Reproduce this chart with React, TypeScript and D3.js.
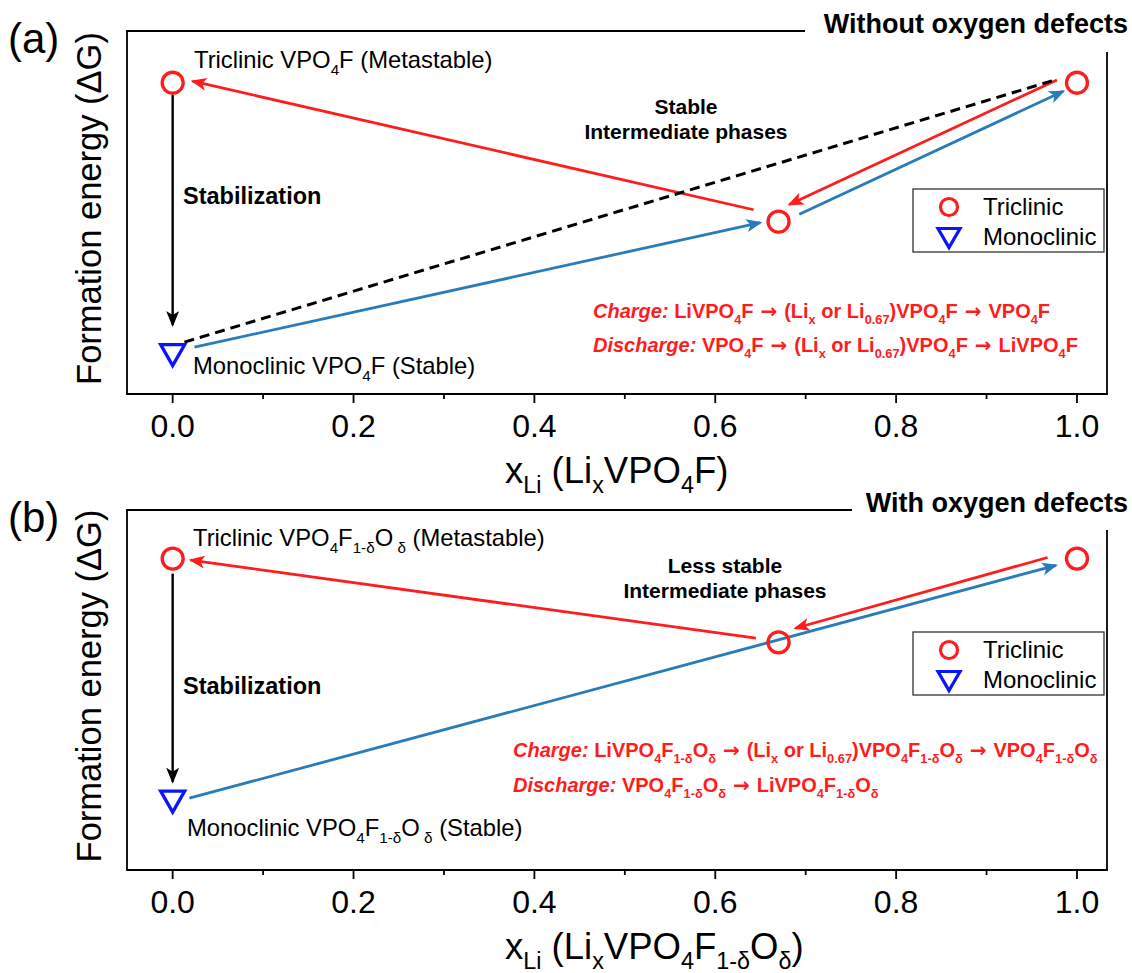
import React from "react";
import * as d3 from "d3";

// x positions of the phases (Li content) and tick values
const phaseX = [0, 0.67, 1];
const xTicksMajor = [0, 0.2, 0.4, 0.6, 0.8, 1.0];
const xTicksMinor = [0.1, 0.3, 0.5, 0.7, 0.9];

// relative formation energies (arbitrary units)
const triclinicA = [1.0, 0.49, 1.0];
const monoclinicA = [0.0];
const triclinicB = [1.01, 0.7, 1.01];
const monoclinicB = [0.11];

const FONT = "'Liberation Sans', Arial, Helvetica, sans-serif";
const RED = "#ff1c1c";
const BLUE_LINE = "#2a7bba";
const BLUE_MARK = "#0a14ff";

type Part = [string, string?];

function Rich({ x, y, size, parts, fill = "#000", weight = "normal", anchor = "start" }: any) {
  let cur = 0;
  return (
    <text x={x} y={y} fontSize={size} fill={fill} fontWeight={weight} textAnchor={anchor}
      fontFamily={FONT} style={{ whiteSpace: "pre" }}>
      {parts.map((p: Part, i: number) => {
        const f = p[1] || "";
        const sub = f.includes("s");
        const target = sub ? size * 0.28 : 0;
        const dy = target - cur;
        cur = target;
        return (
          <tspan key={i} dy={dy} fontSize={sub ? size * 0.64 : size}
            fontFamily={f.includes("a") ? "'DejaVu Sans', sans-serif" : undefined}
            fontStyle={f.includes("i") ? "italic" : undefined}>{p[0]}</tspan>
        );
      })}
    </text>
  );
}

function seg(x0: number, y0: number, x1: number, y1: number, g0: number, g1: number, off: number) {
  const dx = x1 - x0, dy = y1 - y0, L = Math.hypot(dx, dy);
  const ux = dx / L, uy = dy / L;
  let nx = uy, ny = -ux;
  if (ny > 0 || (ny === 0 && nx > 0)) { nx = -nx; ny = -ny; }
  return [x0 + ux * g0 + nx * off, y0 + uy * g0 + ny * off, x1 - ux * g1 + nx * off, y1 - uy * g1 + ny * off];
}

const x = d3.scaleLinear().domain([-0.0505, 1.0332]).range([127, 1107]);

function triPath(cx: number, cy: number, w: number, h: number) {
  return `M${cx - w / 2},${cy - h / 2}L${cx + w / 2},${cy - h / 2}L${cx},${cy + h / 2}Z`;
}

function Panel({ tri, mono, top, bottom, label, title, titleLineEnd, rightStart, arrows, texts, legendY }: any) {
  const y = d3.scaleLinear().domain([-0.143, 1.19]).range([bottom, top]);
  const P: any = {
    tri0: [x(phaseX[0]), y(tri[0])],
    tri067: [x(phaseX[1]), y(tri[1])],
    tri1: [x(phaseX[2]), y(tri[2])],
    mono0: [x(phaseX[0]), y(mono[0])],
  };
  const [x0, x1] = x.range();
  return (
    <g>
      {/* frame */}
      <line x1={x0} x2={x0} y1={top} y2={bottom} stroke="#000" strokeWidth={1.8} />
      <line x1={x0 - 0.9} x2={x1 + 0.9} y1={bottom} y2={bottom} stroke="#000" strokeWidth={1.8} />
      <line x1={x1} x2={x1} y1={rightStart} y2={bottom} stroke="#000" strokeWidth={1.8} />
      <line x1={x0 - 0.9} x2={titleLineEnd} y1={top} y2={top} stroke="#000" strokeWidth={1.8} />
      <text x={1128} y={top + 2} textAnchor="end" fontFamily={FONT} fontWeight="bold" fontSize={27}>{title}</text>
      <text x={8} y={top + 22} fontFamily={FONT} fontSize={42}>{label}</text>
      {/* ticks */}
      {xTicksMajor.map((t) => (
        <g key={"M" + t}>
          <line x1={x(t)} x2={x(t)} y1={bottom} y2={bottom + 9} stroke="#000" strokeWidth={1.8} />
          <text x={x(t)} y={bottom + 43} textAnchor="middle" fontFamily={FONT} fontSize={32}>{d3.format(".1f")(t)}</text>
        </g>
      ))}
      {xTicksMinor.map((t) => (
        <line key={"m" + t} x1={x(t)} x2={x(t)} y1={bottom} y2={bottom + 5} stroke="#000" strokeWidth={1.8} />
      ))}
      {/* y label */}
      <text transform={`translate(101,${(top + bottom) / 2 - 4}) rotate(-90)`} textAnchor="middle"
        fontFamily={FONT} fontSize={34.5}>Formation energy (ΔG)</text>
      {/* arrows */}
      {arrows.map((a: any, i: number) => {
        const p0 = P[a.from], p1 = P[a.to];
        const s = seg(p0[0], p0[1], p1[0], p1[1], a.g0, a.g1, a.off);
        return (
          <line key={i} x1={s[0]} y1={s[1]} x2={s[2]} y2={s[3]} stroke={a.color} strokeWidth={a.w || 2.8}
            strokeDasharray={a.dash ? "10,6" : undefined}
            markerEnd={a.head ? `url(#head-${a.head})` : undefined} />
        );
      })}
      {/* markers */}
      {[P.tri0, P.tri067, P.tri1].map((p: number[], i: number) => (
        <circle key={i} cx={p[0]} cy={p[1]} r={10.5} fill="none" stroke={RED} strokeWidth={3.3} />
      ))}
      <path d={triPath(P.mono0[0], P.mono0[1], 24, 21)} fill="none" stroke={BLUE_MARK} strokeWidth={3.3} strokeLinejoin="miter" />
      {/* legend */}
      <rect x={913} y={legendY} width={191} height={63} fill="#fff" stroke="#333" strokeWidth={1.3} />
      <circle cx={949} cy={legendY + 18} r={8.5} fill="none" stroke={RED} strokeWidth={3.2} />
      <text x={983} y={legendY + 26} fontFamily={FONT} fontSize={24}>Triclinic</text>
      <path d={triPath(949, legendY + 49, 22, 19)} fill="none" stroke={BLUE_MARK} strokeWidth={3.2} />
      <text x={983} y={legendY + 56} fontFamily={FONT} fontSize={24}>Monoclinic</text>
      {texts}
    </g>
  );
}

const F = "1-δ";
const AR: Part = [" → ", "a"];

export default function App() {
  const arrowsA = [
    { from: "tri067", to: "tri0", color: RED, g0: 27, g1: 19, off: 6, head: "red" },
    { from: "tri1", to: "tri067", color: RED, g0: 17, g1: 17, off: 11, head: "red" },
    { from: "tri067", to: "tri1", color: BLUE_LINE, g0: 22, g1: 16, off: -2, head: "blue" },
    { from: "mono0", to: "tri067", color: BLUE_LINE, g0: 23, g1: 18, off: 3, head: "blue" },
    { from: "mono0", to: "tri1", color: "#000", g0: 15, g1: 20, off: 9, dash: true, w: 3 },
    { from: "tri0", to: "mono0", color: "#000", g0: 12, g1: 30, off: 0, head: "black", w: 2.4 },
  ];
  const arrowsB = [
    { from: "tri067", to: "tri0", color: RED, g0: 23, g1: 18, off: 1, head: "red" },
    { from: "tri1", to: "tri067", color: RED, g0: 28, g1: 20, off: 9, head: "red" },
    { from: "mono0", to: "tri1", color: BLUE_LINE, g0: 17, g1: 22, off: -1, head: "blue" },
    { from: "tri0", to: "mono0", color: "#000", g0: 15, g1: 20, off: 0, head: "black", w: 2.4 },
  ];
  const textsA = (
    <g>
      <Rich x={194} y={68} size={23.8} parts={[["Triclinic VPO"], ["4", "s"], ["F (Metastable)"]]} />
      <Rich x={193} y={374} size={23.8} parts={[["Monoclinic VPO"], ["4", "s"], ["F (Stable)"]]} />
      <text x={183} y={204} fontFamily={FONT} fontWeight="bold" fontSize={23.5}>Stabilization</text>
      <text x={686} y={114} textAnchor="middle" fontFamily={FONT} fontWeight="bold" fontSize={21}>Stable</text>
      <text x={686} y={139} textAnchor="middle" fontFamily={FONT} fontWeight="bold" fontSize={21}>Intermediate phases</text>
      <Rich x={593} y={318} size={20} weight="bold" fill={RED}
        parts={[["Charge: ", "i"], ["LiVPO"], ["4", "s"], ["F"], AR, ["(Li"], ["x", "s"], [" or Li"], ["0.67", "s"], [")VPO"], ["4", "s"], ["F"], AR, ["VPO"], ["4", "s"], ["F"]]} />
      <Rich x={593} y={352} size={20} weight="bold" fill={RED}
        parts={[["Discharge: ", "i"], ["VPO"], ["4", "s"], ["F"], AR, ["(Li"], ["x", "s"], [" or Li"], ["0.67", "s"], [")VPO"], ["4", "s"], ["F"], AR, ["LiVPO"], ["4", "s"], ["F"]]} />
      <Rich x={505} y={483} size={36.5} parts={[["x"], ["Li", "s"], [" (Li"], ["x", "s"], ["VPO"], ["4", "s"], ["F)"]]} />
    </g>
  );
  const textsB = (
    <g>
      <Rich x={193} y={546} size={23.8} parts={[["Triclinic VPO"], ["4", "s"], ["F"], [F, "s"], ["O"], [" δ", "s"], [" (Metastable)"]]} />
      <Rich x={187} y={836} size={23.8} parts={[["Monoclinic VPO"], ["4", "s"], ["F"], [F, "s"], ["O"], [" δ", "s"], [" (Stable)"]]} />
      <text x={183} y={694} fontFamily={FONT} fontWeight="bold" fontSize={23.5}>Stabilization</text>
      <text x={725} y={573} textAnchor="middle" fontFamily={FONT} fontWeight="bold" fontSize={21}>Less stable</text>
      <text x={725} y={598} textAnchor="middle" fontFamily={FONT} fontWeight="bold" fontSize={21}>Intermediate phases</text>
      <Rich x={513} y={757} size={20} weight="bold" fill={RED}
        parts={[["Charge: ", "i"], ["LiVPO"], ["4", "s"], ["F"], [F, "s"], ["O"], ["δ", "s"], AR, ["(Li"], ["x", "s"], [" or Li"], ["0.67", "s"], [")VPO"], ["4", "s"], ["F"], [F, "s"], ["O"], ["δ", "s"], AR, ["VPO"], ["4", "s"], ["F"], [F, "s"], ["O"], ["δ", "s"]]} />
      <Rich x={513} y={792} size={20} weight="bold" fill={RED}
        parts={[["Discharge: ", "i"], ["VPO"], ["4", "s"], ["F"], [F, "s"], ["O"], ["δ", "s"], AR, ["LiVPO"], ["4", "s"], ["F"], [F, "s"], ["O"], ["δ", "s"]]} />
      <Rich x={505} y={959} size={36.5} parts={[["x"], ["Li", "s"], [" (Li"], ["x", "s"], ["VPO"], ["4", "s"], ["F"], [F, "s"], ["O"], ["δ", "s"], [")"]]} />
    </g>
  );
  const heads = [["red", RED], ["blue", BLUE_LINE], ["black", "#000"]];
  return (
    <svg width={1132} height={973} style={{ position: "absolute", left: 0, top: 0, background: "#fff" }}>
      <defs>
        {heads.map(([id, c]) => (
          <marker key={id} id={`head-${id}`} markerUnits="userSpaceOnUse" markerWidth={18} markerHeight={14}
            refX={14} refY={6.5} orient="auto" viewBox="0 0 18 14">
            <path d="M0,0L16,6.5L0,13L4,6.5Z" fill={c} />
          </marker>
        ))}
      </defs>
      <Panel tri={triclinicA} mono={monoclinicA} top={31} bottom={394} label="(a)" title="Without oxygen defects"
        titleLineEnd={805} rightStart={52} arrows={arrowsA} texts={textsA} legendY={189} />
      <Panel tri={triclinicB} mono={monoclinicB} top={510} bottom={870} label="(b)" title="With oxygen defects"
        titleLineEnd={852} rightStart={530} arrows={arrowsB} texts={textsB} legendY={632} />
    </svg>
  );
}
